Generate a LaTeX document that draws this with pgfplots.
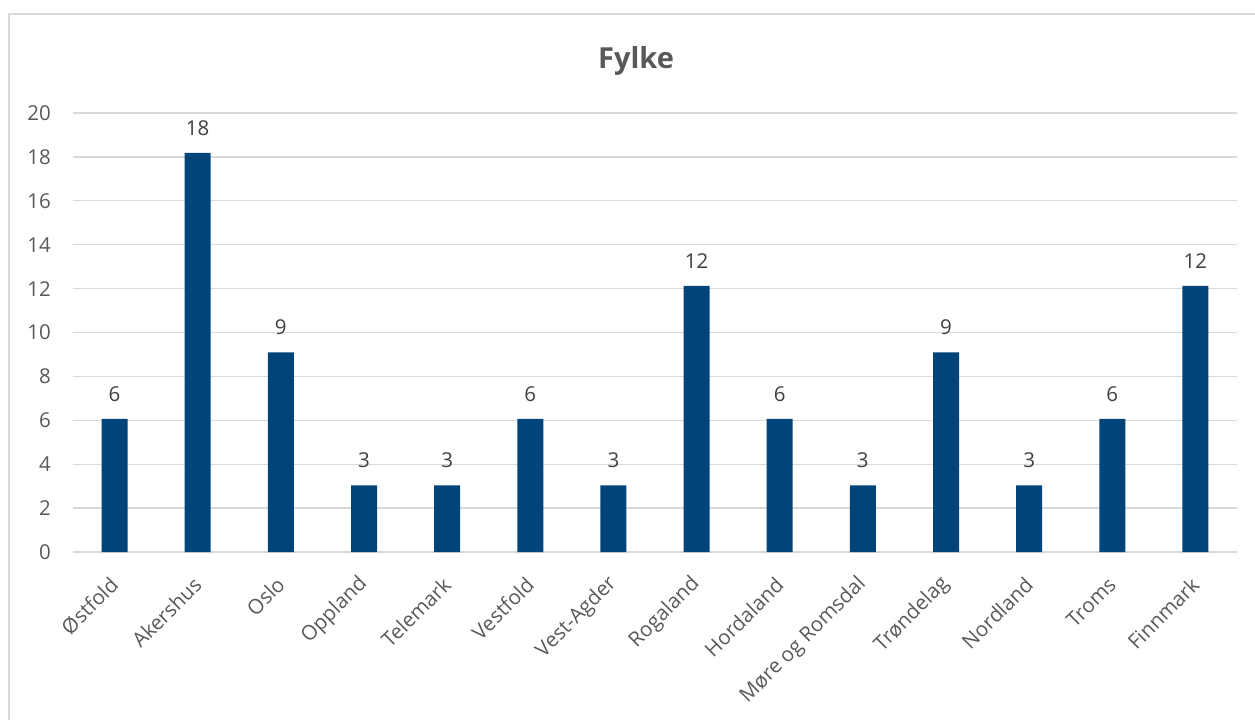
\documentclass[border=0pt]{standalone}
\usepackage{fontspec}
\setmainfont{Open Sans}
\usepackage{pgfplots}
\pgfplotsset{compat=1.18}
\definecolor{barblue}{HTML}{00447A}
\definecolor{gridgray}{HTML}{D9D9D9}
\definecolor{ticktext}{HTML}{595959}
\definecolor{labeltext}{HTML}{404040}
\begin{document}
\begin{tikzpicture}[x=1pt,y=1pt]
\useasboundingbox (0,0) rectangle (1255,720);
\draw[gridgray, line width=1.3pt] (9,0) -- (9,706) -- (1255,706);
\node[font=\fontsize{29}{34}\selectfont\bfseries, text=ticktext, anchor=base, inner sep=0pt] at (636,651) {Fylke};
\begin{axis}[
  at={(73pt,168pt)}, anchor=south west,
  scale only axis, width=1164pt, height=439pt,
  xmin=-0.5, xmax=13.5, ymin=0, ymax=20,
  ytick={0,2,...,20},
  xtick={0,...,13},
  xticklabels={Østfold,Akershus,Oslo,Oppland,Telemark,Vestfold,Vest-Agder,Rogaland,Hordaland,Møre og Romsdal,Trøndelag,Nordland,Troms,Finnmark},
  axis line style={draw=none},
  major tick length=0pt,
  ymajorgrids,
  grid style={gridgray, line width=1.3pt},
  /pgf/number format/assume math mode=true,
  tick label style={font=\fontsize{20.5}{24}\selectfont, text=ticktext},
  yticklabel style={inner sep=0pt, xshift=-22pt},
  xticklabel style={xshift=0pt, yshift=-29pt, rotate=45, anchor=east, inner sep=0pt},
  ybar, bar width=26pt, bar shift=0pt,
  nodes near coords={\pgfmathprintnumber[fixed,precision=0]{\pgfplotspointmeta}},
  nodes near coords style={font=\fontsize{20.5}{24}\selectfont, text=labeltext, anchor=base, yshift=17.7pt, inner sep=0pt},
]
\addplot[fill=barblue, draw=none] coordinates {
(0,6.06) (1,18.18) (2,9.09) (3,3.03) (4,3.03) (5,6.06) (6,3.03)
(7,12.12) (8,6.06) (9,3.03) (10,9.09) (11,3.03) (12,6.06) (13,12.12)};
\end{axis}
\end{tikzpicture}
\end{document}
